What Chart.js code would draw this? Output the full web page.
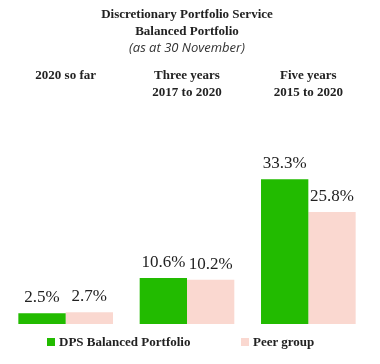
<!DOCTYPE html>
<html>
<head>
<meta charset="utf-8">
<script src="https://cdn.jsdelivr.net/npm/chart.js@4.4.0/dist/chart.umd.min.js"></script>
<style>
  html, body { margin: 0; padding: 0; background: #fff; }
  #wrap { position: relative; width: 380px; height: 364px; }
  #legenda { position: absolute; left: 0; top: 334px; width: 380px; height: 16px;
    font-family: "Liberation Serif", serif; font-weight: bold; font-size: 13px; color: #222; }
  .item { position: absolute; top: 0; white-space: nowrap; line-height: 16px; }
  .caixa { display: inline-block; width: 8px; height: 8px; margin-right: 4px; vertical-align: 0px; }
</style>
</head>
<body>
<div id="wrap">
  <canvas id="grafico" width="380" height="364"></canvas>
  <div id="legenda"></div>
</div>
<script>
// periodos (rotulos no topo)
const periodos = [
  ['2020 so far'],
  ['Three years', '2017 to 2020'],
  ['Five years', '2015 to 2020']
];
const series = ['DPS Balanced Portfolio', 'Peer group'];
const dps = [2.5, 10.6, 33.3];
const peer = [2.7, 10.2, 25.8];
const cores = ['#22bb00', '#fad8d0'];

// escreve o valor acima de cada barra
const rotulosBarras = {
  id: 'rotulosBarras',
  afterDatasetsDraw(chart) {
    const ctx = chart.ctx;
    ctx.save();
    ctx.font = '17px "Liberation Serif", serif';
    ctx.fillStyle = '#222';
    ctx.textAlign = 'center';
    ctx.textBaseline = 'alphabetic';
    chart.data.datasets.forEach((ds, i) => {
      chart.getDatasetMeta(i).data.forEach((bar, j) => {
        ctx.fillText(ds.data[j].toFixed(1) + '%', bar.x, bar.y - 11);
      });
    });
    ctx.restore();
  }
};

const ctx = document.getElementById('grafico').getContext('2d');
const grafico = new Chart(ctx, {
  type: 'bar',
  data: {
    labels: periodos,
    datasets: [
      { label: series[0], data: dps, backgroundColor: cores[0] },
      { label: series[1], data: peer, backgroundColor: cores[1] }
    ]
  },
  options: {
    responsive: false,
    animation: false,
    layout: { padding: { left: 5, right: 11, top: 0, bottom: 40 } },
    datasets: { bar: { categoryPercentage: 0.78, barPercentage: 1.0 } },
    scales: {
      x: {
        position: 'top',
        grid: { display: false },
        border: { display: false },
        ticks: {
          color: '#222',
          padding: 4,
          crossAlign: 'far',
          font: { family: '"Liberation Serif", serif', size: 13, weight: 'bold', lineHeight: 1.3 }
        }
      },
      y: { display: false, min: 0, max: 48.6 }
    },
    plugins: {
      legend: { display: false },
      tooltip: { enabled: false },
      title: {
        display: true,
        text: ['Discretionary Portfolio Service', 'Balanced Portfolio'],
        color: '#222',
        padding: { top: 6, bottom: 1 },
        font: { family: '"Liberation Serif", serif', size: 13, weight: 'bold', lineHeight: 1.3 }
      },
      subtitle: {
        display: true,
        text: '(as at 30 November)',
        color: '#333',
        padding: { top: 0, bottom: 8 },
        font: { family: '"Open Sans", sans-serif', size: 13, style: 'italic', lineHeight: 1.1 }
      }
    }
  },
  plugins: [rotulosBarras]
});

// legenda em HTML
const posLegenda = [47, 241];
const legenda = document.getElementById('legenda');
grafico.data.datasets.forEach((ds, i) => {
  const el = document.createElement('span');
  el.className = 'item';
  el.style.left = posLegenda[i] + 'px';
  el.innerHTML = '<span class="caixa" style="background:' + ds.backgroundColor + '"></span>' + ds.label;
  legenda.appendChild(el);
});
</script>
</body>
</html>
